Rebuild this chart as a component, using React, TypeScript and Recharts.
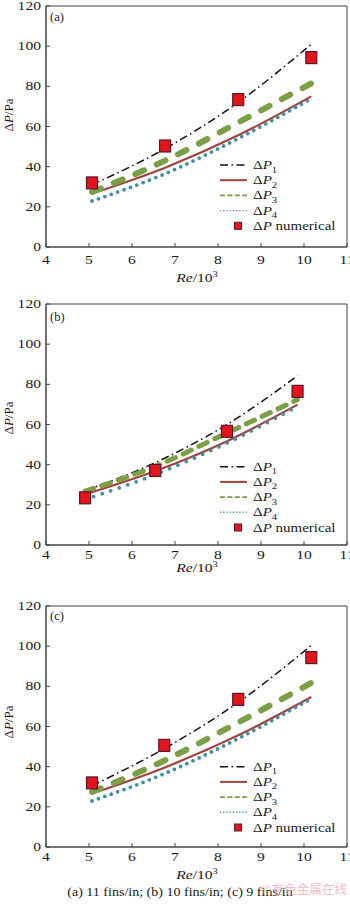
import React from "react";
import { ComposedChart, Line, Scatter, XAxis, YAxis, ReferenceArea } from "recharts";

// Re/10^3 positions and ΔP values (Pa)
const reA = [5.07, 6.77, 8.47, 10.17];
const p1A = [31, 49, 72, 101];
const p2A = [26.6, 39.5, 55.6, 75];
const p3A = [27.4, 43, 62, 81.5];
const p4A = [22.9, 36.5, 54, 73.9];
const numA = [31.9, 50.3, 73.4, 94.3];

const reB = [4.91, 6.54, 8.21, 9.85];
const p1B = [27, 41, 60, 84.3];
const p2B = [25.2, 36.8, 51.7, 69.9];
const p3B = [26.8, 39.2, 55.8, 72.4];
const p4B = [22.7, 35.1, 50.8, 69];
const numB = [23.5, 37.1, 56.6, 76.5];

const reC = [5.07, 6.75, 8.47, 10.17];
const p1C = [30.5, 49, 72, 100.4];
const p2C = [26.6, 39.5, 55.6, 74.7];
const p3C = [27.4, 43, 62, 81.7];
const p4C = [22.9, 36.5, 54, 73.9];
const numC = [31.9, 50.6, 73.5, 94.3];

const xTicks = [4, 5, 6, 7, 8, 9, 10, 11];
const yTicks = [0, 20, 40, 60, 80, 100, 120];
const legendSubs = ["1", "2", "3", "4"];
const caption = "(a) 11 fins/in; (b) 10 fins/in; (c) 9 fins/in";
const watermark = "©有色金属在线";

const SERIF = "'Liberation Serif', 'Times New Roman', serif";
const INK = "#1a1a1a";
const AXIS = "#444";
const C1 = "#111";
const C2 = "#a3443a";
const C3 = "#7b9f45";
const C4 = "#3d8fa3";
const RED = "#e5141c";
const SX = 1.3;

const buildRows = (re: number[], p1: number[], p2: number[], p3: number[], p4: number[], num: number[]) =>
  re.map((r, i) => ({ re: r, p1: p1[i], p2: p2[i], p3: p3[i], p4: p4[i], num: num[i] }));

const Square = (props: any) => {
  const { cx, cy } = props;
  if (cx == null || cy == null) return null;
  return <rect x={cx - 5.5} y={cy - 6} width={11} height={12} fill={RED} stroke="#5a1830" strokeWidth={1.2} />;
};

const XTick = (props: any) => {
  const { x, y, payload, dy } = props;
  return (
    <g>
      <line x1={x} x2={x} y1={y} y2={y - 4} stroke={AXIS} />
      <text transform={`translate(${x},${y + dy}) scale(${SX},1)`} textAnchor="middle" fontSize={12} fontFamily={SERIF} fill={INK}>
        {payload.value}
      </text>
    </g>
  );
};

const YTick = (props: any) => {
  const { x, y, payload } = props;
  return (
    <g>
      <line x1={x} x2={x + 4} y1={y} y2={y} stroke={AXIS} />
      <text transform={`translate(${x - 5},${y + 4}) scale(${SX},1)`} textAnchor="end" fontSize={12} fontFamily={SERIF} fill={INK}>
        {payload.value}
      </text>
    </g>
  );
};

const DeltaP = ({ x, y, sub, rest }: { x: number; y: number; sub?: string; rest?: string }) => (
  <text transform={`translate(${x},${y}) scale(1.25,1)`} fontSize={12} fontFamily={SERIF} fill={INK}>
    Δ<tspan fontStyle="italic">P</tspan>
    {sub && (
      <tspan fontSize={8.5} dy={3.5}>
        {sub}
      </tspan>
    )}
    {rest}
  </text>
);

interface PanelProps {
  rows: any[];
  letter: string;
  top: number;
  letterY: number;
  legendTop: number;
  tickDy: number;
  labelDy: number;
  yLabelY: number;
  p3Width: number;
  p3Dash: string;
  p4Dash: string;
}

const W = 350;
const H = 298;
const PLOT_TOP = 6;
const PLOT_BOTTOM = 247;

function Panel(p: PanelProps) {
  const legendStyles = [
    { stroke: C1, w: 1.5, dash: "8 3.5 1.5 3.5" },
    { stroke: C2, w: 2, dash: undefined },
    { stroke: C3, w: 1.6, dash: "5 2.4" },
    { stroke: C4, w: 1.4, dash: "1.2 2" },
  ];
  return (
    <div style={{ position: "absolute", left: 0, top: p.top, width: W, height: H }}>
      <ComposedChart width={W} height={H} data={p.rows} margin={{ top: PLOT_TOP, right: 3, bottom: 0, left: 0 }}>
        <ReferenceArea x1={4} x2={11} y1={0} y2={120} fill="none" stroke={AXIS} strokeWidth={1} ifOverflow="visible" />
        <XAxis
          type="number"
          dataKey="re"
          domain={[4, 11]}
          ticks={xTicks}
          interval={0}
          height={H - PLOT_BOTTOM}
          tickSize={0}
          tickMargin={0}
          stroke={AXIS}
          tick={(t: any) => <XTick {...t} dy={p.tickDy} />}
        />
        <YAxis
          type="number"
          domain={[0, 120]}
          ticks={yTicks}
          interval={0}
          width={46}
          tickSize={0}
          tickMargin={0}
          stroke={AXIS}
          tick={(t: any) => <YTick {...t} />}
        />
        <Line type="monotone" dataKey="p1" stroke={C1} strokeWidth={1.5} strokeDasharray="8 3.5 1.5 3.5" dot={false} isAnimationActive={false} />
        <Line type="monotone" dataKey="p2" stroke={C2} strokeWidth={2.2} dot={false} isAnimationActive={false} />
        <Line
          type="monotone"
          dataKey="p3"
          stroke={C3}
          strokeWidth={p.p3Width}
          strokeDasharray={p.p3Dash}
          strokeLinecap="round"
          dot={false}
          isAnimationActive={false}
        />
        <Line
          type="monotone"
          dataKey="p4"
          stroke={C4}
          strokeWidth={3.8}
          strokeDasharray={p.p4Dash}
          strokeLinecap="round"
          dot={false}
          isAnimationActive={false}
        />
        <Scatter dataKey="num" shape={Square} isAnimationActive={false} />
      </ComposedChart>
      <svg width={W} height={H} style={{ position: "absolute", left: 0, top: 0, pointerEvents: "none" }}>
        <text x={50} y={p.letterY} fontSize={12.5} fontFamily={SERIF} fill={INK}>
          {p.letter}
        </text>
        <text transform={`translate(13,${p.yLabelY}) rotate(-90)`} textAnchor="middle" fontSize={13} fontFamily={SERIF} fill={INK}>
          Δ<tspan fontStyle="italic">P</tspan>/Pa
        </text>
        <text
          transform={`translate(197,${PLOT_BOTTOM + p.labelDy}) scale(${SX},1)`}
          textAnchor="middle"
          fontSize={12}
          fontFamily={SERIF}
          fill={INK}
        >
          <tspan fontStyle="italic">Re</tspan>/10
          <tspan fontSize={8} dy={-5}>
            3
          </tspan>
        </text>
        {legendSubs.map((s, i) => {
          const cy = p.legendTop + i * 15.2;
          const st = legendStyles[i];
          return (
            <g key={s}>
              <line x1={220} x2={247} y1={cy} y2={cy} stroke={st.stroke} strokeWidth={st.w} strokeDasharray={st.dash} />
              <DeltaP x={253} y={cy + 4} sub={s} />
            </g>
          );
        })}
        <rect x={234.5} y={p.legendTop + 4 * 15.2 - 3.5} width={7} height={7} fill={RED} stroke="#5a1830" strokeWidth={1} />
        <DeltaP x={253} y={p.legendTop + 4 * 15.2 + 4} rest=" numerical" />
      </svg>
    </div>
  );
}

export default function App() {
  return (
    <div style={{ position: "absolute", left: 0, top: 0, width: 350, height: 907, background: "#fff", overflow: "hidden" }}>
      <Panel
        rows={buildRows(reA, p1A, p2A, p3A, p4A, numA)}
        letter="(a)"
        top={0}
        letterY={21}
        legendTop={165}
        tickDy={17}
        labelDy={35}
        yLabelY={115}
        p3Width={6}
        p3Dash="9.5 14"
        p4Dash="0 6.8"
      />
      <Panel
        rows={buildRows(reB, p1B, p2B, p3B, p4B, numB)}
        letter="(b)"
        top={298}
        letterY={23}
        legendTop={168.7}
        tickDy={13.5}
        labelDy={27}
        yLabelY={120}
        p3Width={5}
        p3Dash="9 8.5"
        p4Dash="0 9"
      />
      <Panel
        rows={buildRows(reC, p1C, p2C, p3C, p4C, numC)}
        letter="(c)"
        top={600}
        letterY={19.5}
        legendTop={166.7}
        tickDy={13.5}
        labelDy={31.5}
        yLabelY={122}
        p3Width={6}
        p3Dash="9.5 14"
        p4Dash="0 6.8"
      />
      <svg width={350} height={40} style={{ position: "absolute", left: 0, top: 870 }}>
        <text transform={`translate(180,26) scale(1.17,1)`} textAnchor="middle" fontSize={12} fontFamily={SERIF} fill={INK}>
          {caption}
        </text>
        <text x={347} y={24} textAnchor="end" fontSize={12.5} fontFamily="'Noto Sans CJK SC', sans-serif" fill="#f2a9b4" opacity={0.75}>
          {watermark}
        </text>
      </svg>
    </div>
  );
}
